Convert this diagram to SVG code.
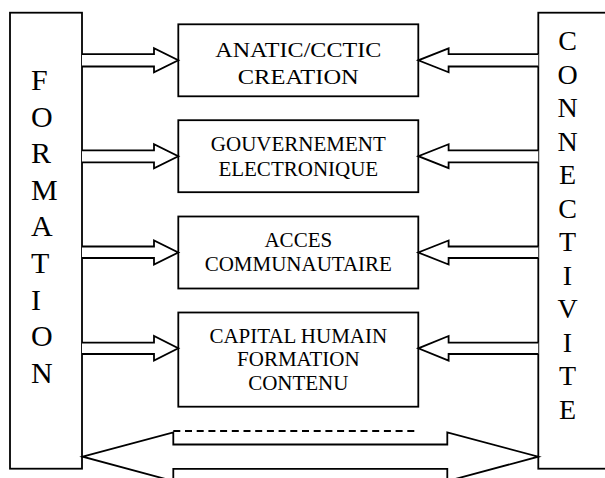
<svg xmlns="http://www.w3.org/2000/svg" width="605" height="478" viewBox="0 0 605 478">
  <style>
    .frame { fill: #ffffff; stroke: #000000; stroke-width: 1.8; }
    .arrow { fill: #ffffff; stroke: #000000; stroke-width: 1.8; stroke-linejoin: miter; }
    .dash { fill: none; stroke: #000000; stroke-width: 1.8; stroke-dasharray: 7 4.7; }
    .lbl { font-family: "Liberation Serif", "Times New Roman", serif; font-size: 21px; fill: #000000; text-anchor: middle; }
    .side { font-family: "Liberation Serif", "Times New Roman", serif; fill: #000000; }
  </style>
  <rect width="605" height="478" fill="#ffffff"/>

  <!-- left column: FORMATION -->
  <g id="formation">
    <rect class="frame" x="10" y="12.7" width="72" height="456"/>
    <g class="side" font-size="30">
      <text x="31" y="90">F</text>
      <text x="31" y="126.6">O</text>
      <text x="31" y="163.2">R</text>
      <text x="31" y="199.8">M</text>
      <text x="31" y="236.4">A</text>
      <text x="31" y="273">T</text>
      <text x="31" y="309.6">I</text>
      <text x="31" y="346.2">O</text>
      <text x="31" y="382.8">N</text>
    </g>
  </g>

  <!-- right column: CONNECTIVITE -->
  <g id="connectivite">
    <rect class="frame" x="538.3" y="12.7" width="80" height="456"/>
    <g class="side" font-size="28" text-anchor="middle">
      <text x="567.5" y="50">C</text>
      <text x="567.5" y="83.5">O</text>
      <text x="567.5" y="117">N</text>
      <text x="567.5" y="150.5">N</text>
      <text x="567.5" y="184">E</text>
      <text x="567.5" y="217.5">C</text>
      <text x="567.5" y="251">T</text>
      <text x="567.5" y="284.5">I</text>
      <text x="567.5" y="318">V</text>
      <text x="567.5" y="351.5">I</text>
      <text x="567.5" y="385">T</text>
      <text x="567.5" y="418.5">E</text>
    </g>
  </g>

  <!-- central boxes -->
  <g id="anatic">
    <rect class="frame" x="178.3" y="24.3" width="240" height="72"/>
    <text class="lbl" x="298.3" y="56.7" textLength="166" lengthAdjust="spacingAndGlyphs">ANATIC/CCTIC</text>
    <text class="lbl" x="298.3" y="84.3" textLength="121" lengthAdjust="spacingAndGlyphs">CREATION</text>
  </g>
  <g id="gouvernement">
    <rect class="frame" x="178.3" y="120.2" width="240" height="72"/>
    <text class="lbl" x="298.3" y="151">GOUVERNEMENT</text>
    <text class="lbl" x="298.3" y="175.7">ELECTRONIQUE</text>
  </g>
  <g id="acces">
    <rect class="frame" x="178.3" y="216.5" width="240" height="72"/>
    <text class="lbl" x="298.3" y="246.7">ACCES</text>
    <text class="lbl" x="298.3" y="271">COMMUNAUTAIRE</text>
  </g>
  <g id="capital">
    <rect class="frame" x="178.3" y="312.5" width="240" height="94.2"/>
    <text class="lbl" x="298.3" y="342.7">CAPITAL HUMAIN</text>
    <text class="lbl" x="298.3" y="366.3">FORMATION</text>
    <text class="lbl" x="298.3" y="390">CONTENU</text>
  </g>

  <!-- connectors: block arrows -->
  <g id="connectors">
    <!-- from FORMATION to each box -->
    <polyline class="arrow" points="82,54.1 154,54.1 154,48.3 178.3,60.3 154,72.3 154,66.5 82,66.5"/>
    <polyline class="arrow" points="82,150.4 154,150.4 154,144.2 178.3,156.2 154,168.2 154,162.3 82,162.3"/>
    <polyline class="arrow" points="82,246.5 154,246.5 154,240.5 178.3,252.5 154,264.5 154,258 82,258"/>
    <polyline class="arrow" points="82,342.6 154,342.6 154,336 178.3,348.3 154,360.6 154,354 82,354"/>
    <!-- from CONNECTIVITE to each box -->
    <polyline class="arrow" points="538.3,54.1 448.6,54.1 448.6,48.3 418.3,60.3 448.6,72.3 448.6,66.5 538.3,66.5"/>
    <polyline class="arrow" points="538.3,150.4 448.6,150.4 448.6,144.2 418.3,156.2 448.6,168.2 448.6,162.3 538.3,162.3"/>
    <polyline class="arrow" points="538.3,246.5 448.6,246.5 448.6,240.5 418.3,252.5 448.6,264.5 448.6,258 538.3,258"/>
    <polyline class="arrow" points="538.3,342.6 448.6,342.6 448.6,336 418.3,348.3 448.6,360.6 448.6,354 538.3,354"/>
    <!-- double arrow between the two columns -->
    <polygon class="arrow" points="82.7,456.7 173.3,432.3 173.3,444.5 447.3,444.5 447.3,432.3 538.3,456.7 447.3,481.1 447.3,468.9 173.3,468.9 173.3,481.1"/>
    <line class="dash" x1="173.3" y1="431" x2="419" y2="431"/>
  </g>
</svg>
